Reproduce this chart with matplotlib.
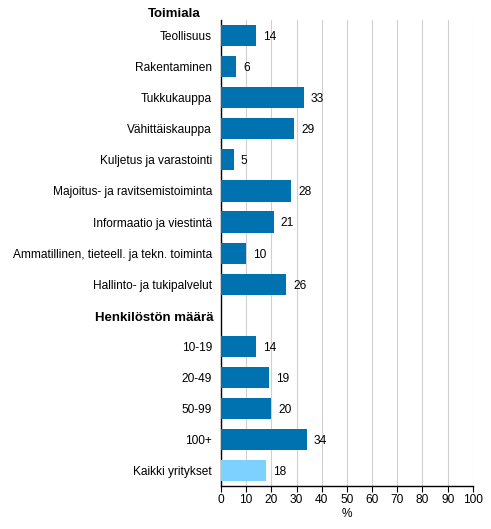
import matplotlib
matplotlib.use("Agg")
import matplotlib.pyplot as plt
import numpy as np

# data
toimiala = ["Teollisuus", "Rakentaminen", "Tukkukauppa", "Vähittäiskauppa",
            "Kuljetus ja varastointi", "Majoitus- ja ravitsemistoiminta",
            "Informaatio ja viestintä",
            "Ammatillinen, tieteell. ja tekn. toiminta",
            "Hallinto- ja tukipalvelut"]
toimiala_val = [14, 6, 33, 29, 5, 28, 21, 10, 26]
koko = ["10-19", "20-49", "50-99", "100+"]
koko_val = [14, 19, 20, 34]
kaikki = "Kaikki yritykset"
kaikki_val = 18
headers = ["Toimiala", "Henkilöstön määrä"]
xticks = list(range(0, 101, 10))

plt.rcParams["font.family"] = ["Liberation Sans", "DejaVu Sans"]

dark = "#0072b0"
light = "#7dd1ff"

labels = toimiala + [""] + koko + [kaikki]
vals = toimiala_val + [np.nan] + koko_val + [kaikki_val]
colors = [dark] * (len(labels) - 1) + [light]
ypos = np.arange(len(labels))

fig = plt.figure(figsize=(4.91, 5.29), dpi=100)
ax = fig.add_axes([0.450, 0.081, 0.513, 0.881])

ax.barh(ypos, vals, height=0.68, color=colors, zorder=3)
for y, v in zip(ypos, vals):
    if not np.isnan(v):
        ax.annotate(f"{v:g}", (v, y), xytext=(5, -1), textcoords="offset points",
                    va="center", ha="left", fontsize=8.6)

ax.set_yticks(ypos)
ax.set_yticklabels(labels, fontsize=8.6)
ax.tick_params(axis="y", length=0, pad=6.5)
ax.set_ylim(len(labels) - 0.5, -0.5)

ax.set_xlim(0, 100)
ax.set_xticks(xticks)
ax.set_xticklabels([str(t) for t in xticks], fontsize=8.6)
ax.tick_params(axis="x", length=4, width=0.8, pad=2)
ax.set_xlabel("%", fontsize=8.6, labelpad=1)

ax.grid(axis="x", color="#d0d0d0", linewidth=0.8, zorder=0)
ax.spines["top"].set_visible(False)
ax.spines["right"].set_visible(False)
ax.spines["left"].set_linewidth(1.0)
ax.spines["bottom"].set_linewidth(1.0)

# group headings
ax.text(-8, -0.7, headers[0], fontsize=9.5, fontweight="bold",
        ha="right", va="center", clip_on=False)
ax.text(-3, 9.1, headers[1], fontsize=9.5, fontweight="bold",
        ha="right", va="center", clip_on=False)

fig.savefig("out.png", dpi=100)
